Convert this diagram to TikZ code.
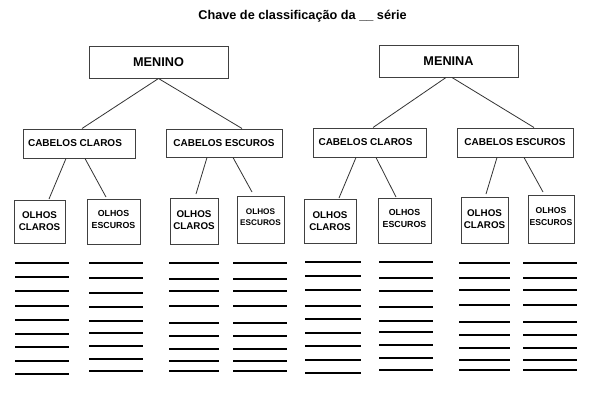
\documentclass[tikz,border=0pt]{standalone}
\usepackage{fontspec}
\setmainfont{Liberation Sans}
\begin{document}
\begin{tikzpicture}[x=1pt,y=-1pt,
  box/.style={draw=black!75, line width=1pt, rectangle, inner sep=0pt, align=center, font=\bfseries\fontsize{10}{12}\selectfont},
  topbox/.style={box, font=\bfseries\fontsize{12.7}{14}\selectfont},
  eyebox/.style={box, font=\bfseries\fontsize{9.8}{12}\selectfont},
  darkbox/.style={box, font=\bfseries\fontsize{8.8}{11.5}\selectfont},
  conn/.style={draw=black!80, line width=0.8pt},
  rule/.style={draw=black, line width=2pt},
  title/.style={font=\bfseries\fontsize{12.7}{14}\selectfont, inner sep=0pt}]
\useasboundingbox[fill=white] (0,0) rectangle (594,400);

\node[title, anchor=base] (title) at (302.5,19.3) {Chave de classificação da \_\_ série};

% top boxes
\node[topbox, minimum width=139pt, minimum height=32pt] (menino) at (158.5,62) {MENINO};
\node[topbox, minimum width=139pt, minimum height=32pt] (menina) at (448.5,61) {MENINA};

% hair boxes
\node[box, minimum width=112pt, minimum height=29pt] (cc1) at (79,143.5) {\hspace*{-8pt}CABELOS CLAROS};
\node[box, minimum width=116pt, minimum height=28pt] (ce1) at (224,143) {CABELOS ESCUROS};
\node[box, minimum width=113pt, minimum height=29pt] (cc2) at (369.5,142.5) {\hspace*{-8pt}CABELOS CLAROS};
\node[box, minimum width=116pt, minimum height=29pt] (ce2) at (515,142.5) {CABELOS ESCUROS};

% eye boxes
\node[eyebox, minimum width=51pt, minimum height=43pt] (oc1) at (39.5,221.5) {OLHOS\\CLAROS};
\node[darkbox, minimum width=53pt, minimum height=45pt, text depth=4pt] (oe1) at (113.5,221.5) {OLHOS\\ESCUROS};
\node[eyebox, minimum width=48pt, minimum height=46pt, text depth=2pt] (oc2) at (194,221) {OLHOS\\CLAROS};
\node[darkbox, minimum width=47pt, minimum height=47pt, text depth=5pt, font=\bfseries\fontsize{8.2}{11.5}\selectfont] (oe2) at (260.5,219.5) {OLHOS\\ESCUROS};
\node[eyebox, minimum width=52pt, minimum height=44pt] (oc3) at (330,221) {OLHOS\\CLAROS};
\node[darkbox, minimum width=53pt, minimum height=45pt, text depth=4pt] (oe3) at (404.5,220.5) {OLHOS\\ESCUROS};
\node[eyebox, minimum width=47pt, minimum height=46pt, text depth=2pt] (oc4) at (484.5,220) {OLHOS\\CLAROS};
\node[darkbox, minimum width=46pt, minimum height=48pt, text depth=5pt, font=\bfseries\fontsize{8.6}{11.5}\selectfont] (oe4) at (551,219) {OLHOS\\ESCUROS};

% free ends of the lower connectors
\coordinate (e1) at (49,199);
\coordinate (e2) at (106,197);
\coordinate (e3) at (196,194);
\coordinate (e4) at (252,192);
\coordinate (e5) at (339,198);
\coordinate (e6) at (396,197);
\coordinate (e7) at (486,194);
\coordinate (e8) at (543,192);

% connectors
\draw[conn] (menino.south) -- (cc1.north -| 82,0);
\draw[conn] (menino.south) -- (ce1.north -| 242,0);
\draw[conn] (menina.south -| 446,0) -- (cc2.north -| 373,0);
\draw[conn] (menina.south -| 452,0) -- (ce2.north -| 534,0);

\draw[conn] (cc1.south -| 66,0) -- (e1);
\draw[conn] (cc1.south -| 85,0) -- (e2);
\draw[conn] (ce1.south -| 207,0) -- (e3);
\draw[conn] (ce1.south -| 233,0) -- (e4);
\draw[conn] (cc2.south -| 356,0) -- (e5);
\draw[conn] (cc2.south -| 376,0) -- (e6);
\draw[conn] (ce2.south -| 497,0) -- (e7);
\draw[conn] (ce2.south -| 524,0) -- (e8);

% writing lines
\foreach \y in {263,277,291,306,320,334,347,361,374} \draw[rule] (15,\y) -- (69,\y);
\foreach \y in {263,278,293,307,321,333,346,359,371} \draw[rule] (89,\y) -- (143,\y);
\foreach \y in {263,279,291,306,323,336,349,361,371} \draw[rule] (169,\y) -- (219,\y);
\foreach \y in {263,279,291,306,323,336,349,361,371} \draw[rule] (233,\y) -- (287,\y);
\foreach \y in {262,276,290,306,319,333,346,360,373} \draw[rule] (305,\y) -- (361,\y);
\foreach \y in {262,278,291,307,321,332,345,358,370} \draw[rule] (379,\y) -- (433,\y);
\foreach \y in {263,278,290,305,322,335,348,360,370} \draw[rule] (459,\y) -- (510,\y);
\foreach \y in {263,278,290,305,322,335,348,360,370} \draw[rule] (523,\y) -- (577,\y);
\end{tikzpicture}
\end{document}
